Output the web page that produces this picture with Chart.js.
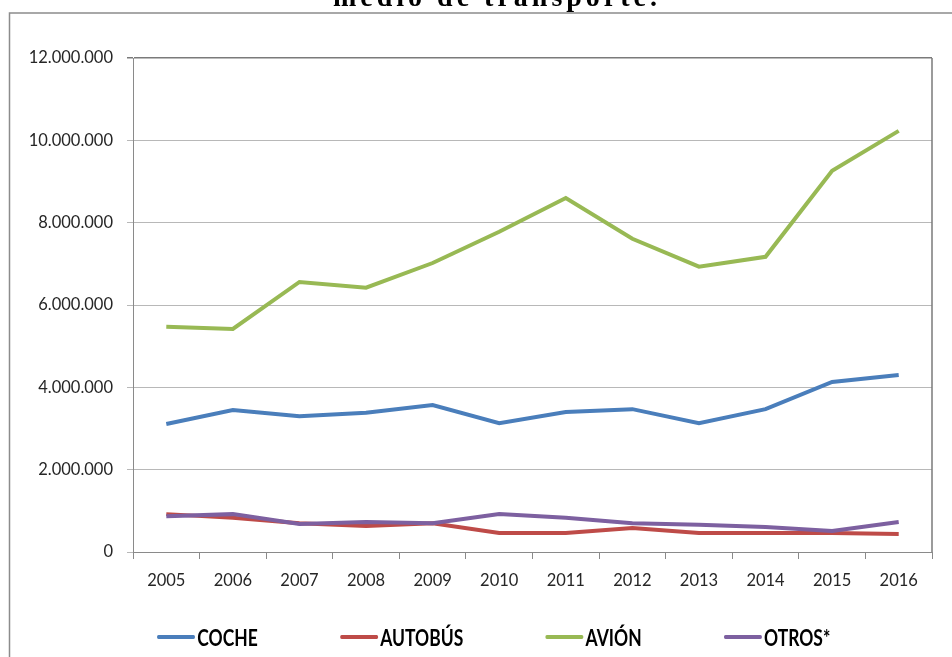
<!DOCTYPE html>
<html><head><meta charset="utf-8">
<script src="https://cdn.jsdelivr.net/npm/chart.js@4"></script>
<style>
html,body{margin:0;padding:0;background:#fff;overflow:hidden}
#wrap{position:relative;width:952px;height:657px;overflow:hidden}
#title{position:absolute;left:21px;width:952px;top:-17px;text-align:center;font-family:"Liberation Serif","Times New Roman",serif;font-weight:bold;font-size:28px;line-height:28px;letter-spacing:4px;color:#000;white-space:nowrap;z-index:2}
canvas{position:absolute;left:0;top:0}
#legend{position:absolute;left:157px;top:624px;height:26px;display:flex;align-items:center;gap:108px;transform:scaleX(0.76);transform-origin:0 50%;white-space:nowrap;z-index:2}
#legend .item{display:flex;align-items:center}
#legend .ln{display:inline-block;width:50px;height:4px;margin-right:3px;border-radius:2px}
#legend .tx{font-family:Lato,"Open Sans",sans-serif;font-weight:bold;font-size:23px;line-height:26px;color:#000}
</style></head>
<body><div id="wrap"><div id="title">medio de transporte.</div><canvas id="c" width="952" height="657"></canvas><div id="legend"></div></div>
<script>
const years = ["2005","2006","2007","2008","2009","2010","2011","2012","2013","2014","2015","2016"];
const coche   = [3110000,3450000,3300000,3380000,3570000,3130000,3400000,3470000,3130000,3470000,4130000,4300000];
const autobus = [920000,830000,700000,630000,700000,460000,460000,580000,460000,460000,460000,440000];
const avion   = [5470000,5420000,6560000,6420000,7020000,7780000,8600000,7610000,6930000,7170000,9260000,10230000];
const otros   = [870000,920000,680000,730000,700000,920000,830000,700000,660000,610000,510000,730000];
const seriesNames = ["COCHE","AUTOBÚS","AVIÓN","OTROS*"];
const seriesColors = ["#4a7ebb","#be4b48","#98b954","#7d60a0"];
const yTickMax = 12000000, yTickStep = 2000000;

function fmt(v){return String(Math.round(v)).replace(/\B(?=(\d{3})+(?!\d))/g,".");}

const framePlugin = {
  id:'frame',
  beforeDraw(chart){
    const ctx = chart.ctx;
    ctx.save();
    ctx.strokeStyle = '#8c8c8c'; ctx.lineWidth = 1.5;
    ctx.beginPath();
    ctx.moveTo(9.5, 660); ctx.lineTo(9.5, 13); ctx.lineTo(955, 13);
    ctx.stroke();
    ctx.restore();
  },
  afterDatasetsDraw(chart){
    const a = chart.chartArea, ctx = chart.ctx;
    ctx.save();
    ctx.strokeStyle = '#7a7a7a'; ctx.lineWidth = 1.5;
    ctx.beginPath();
    ctx.moveTo(a.right, a.top); ctx.lineTo(a.right, a.bottom);
    ctx.stroke();
    ctx.restore();
  }
};

const dataArrays = [coche, autobus, avion, otros];
const tickFont = {family:'Lato,"Open Sans",sans-serif', size:16.5};
new Chart(document.getElementById('c'), {
  type:'line',
  data:{
    labels: years,
    datasets: dataArrays.map((d,i)=>({
      label: seriesNames[i], data: d,
      borderColor: seriesColors[i], backgroundColor: seriesColors[i],
      borderWidth: 4, pointRadius: 0, tension: 0, fill:false,
      order: 4 - i
    }))
  },
  options:{
    responsive:false, animation:false,
    layout:{padding:{left:10,right:20,top:58,bottom:45}},
    plugins:{ tooltip:{enabled:false}, legend:{display:false} },
    scales:{
      x:{
        offset:true,
        grid:{offset:true, drawOnChartArea:false, drawTicks:true, tickLength:7, color:'#8a8a8a'},
        border:{color:'#8a8a8a', width:1},
        ticks:{color:'#262626', padding:12, maxRotation:0, autoSkip:false, font:tickFont},
        afterFit(s){ s.height = 60; }
      },
      y:{
        min:0, max:yTickMax,
        grid:{tickLength:6, color:(c)=> (c.tick && c.tick.value===yTickMax) ? '#7a7a7a' : '#b8b8b8', lineWidth:(c)=> (c.tick && c.tick.value===yTickMax) ? 1.5 : 1},
        border:{color:'#8a8a8a', width:1},
        ticks:{stepSize:yTickStep, color:'#262626', padding:14, callback:(v)=>fmt(v), font:tickFont},
        afterFit(s){ s.width = 123; }
      }
    }
  },
  plugins:[framePlugin]
});

const lg = document.getElementById('legend');
seriesNames.forEach((n,i)=>{
  const it = document.createElement('span'); it.className='item';
  const ln = document.createElement('span'); ln.className='ln'; ln.style.background = seriesColors[i];
  const tx = document.createElement('span'); tx.className='tx'; tx.textContent = n;
  it.appendChild(ln); it.appendChild(tx); lg.appendChild(it);
});
</script>
</body></html>
